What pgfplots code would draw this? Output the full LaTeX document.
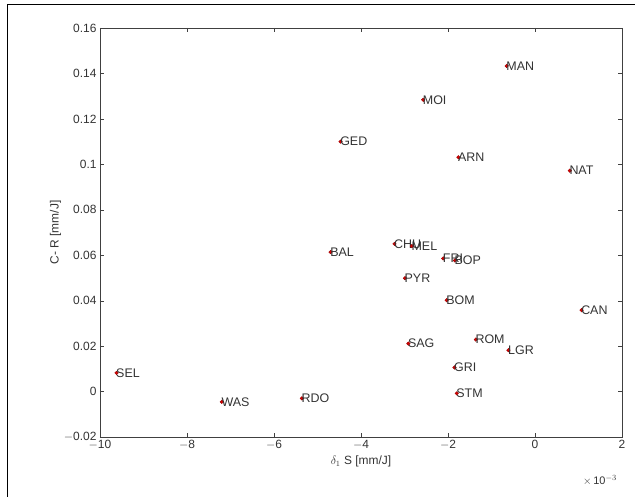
\documentclass[border=0pt]{standalone}
\usepackage{pgfplots}
\pgfplotsset{compat=1.18}
\usepackage{pgfplotstable}
\usepackage{fontspec}
\setmainfont{Liberation Sans}
\pgfplotstableread{
x y label
-9.62 0.0082 SEL
-7.20 -0.0045 WAS
-5.36 -0.0030 RDO
-4.70 0.0614 BAL
-3.23 0.0650 CHU
-2.83 0.0640 MEL
-2.11 0.0586 FRI
-1.84 0.0577 BOP
-2.99 0.0499 PYR
-2.03 0.0402 BOM
1.07 0.0358 CAN
-2.91 0.0211 SAG
-1.36 0.0229 ROM
-0.61 0.0182 LGR
-1.85 0.0106 GRI
-1.80 -0.0008 STM
-0.65 0.1433 MAN
-2.57 0.1284 MOI
-4.47 0.1100 GED
-1.76 0.1031 ARN
0.80 0.0972 NAT
}\pts
\begin{document}
\begin{tikzpicture}
\begin{axis}[name=ax,
  width=522bp, height=409bp, scale only axis,
  xmin=-10, xmax=2, ymin=-0.02, ymax=0.16,
  xtick={-10,-8,-6,-4,-2,0,2},
  ytick={-0.02,0,0.02,0.04,0.06,0.08,0.1,0.12,0.14,0.16},
  yticklabels={$-$0.02,0,0.02,0.04,0.06,0.08,0.1,0.12,0.14,0.16},
  xticklabels={$-$10,$-$8,$-$6,$-$4,$-$2,0,2},
  tick align=inside, major tick length=4bp,
  axis line style={draw=black!75, line width=0.9pt},
  tick style={black!75},
  ticklabel style={font=\fontsize{12}{14}\selectfont, text=black!80},
  xlabel={$\delta_1$ S [mm/J]}, ylabel={C- R [mm/J]},
  label style={font=\fontsize{12}{14}\selectfont, text=black!80},
  xlabel style={yshift=1bp}, ylabel style={yshift=-4bp},
  clip=false,
  nodes near coords={\pgfplotspointmeta},
  point meta=explicit symbolic,
  every node near coord/.style={anchor=west, inner sep=1pt, xshift=-1.5pt,
    font=\fontsize{12.5}{14}\selectfont, text=black!80},
]
\addplot[only marks, mark=*, mark size=1.8pt, mark options={fill=red!85!black, draw=red!60!black}]
  table[x=x, y=y, meta=label] {\pts};
\end{axis}
\node[font=\fontsize{11}{13}\selectfont, text=black!80] at ([xshift=-22bp,yshift=-43bp]ax.south east) {$\times$\,10$^{-3}$};
\useasboundingbox ([xshift=-100bp,yshift=-60bp]ax.south west) rectangle ([xshift=13bp,yshift=28bp]ax.north east);
\draw[line width=0.8pt] ([xshift=-93bp,yshift=-62bp]ax.south west) -- ([xshift=-93bp,yshift=24bp]ax.north west) -- ([xshift=15bp,yshift=24bp]ax.north east);
\end{tikzpicture}
\end{document}
